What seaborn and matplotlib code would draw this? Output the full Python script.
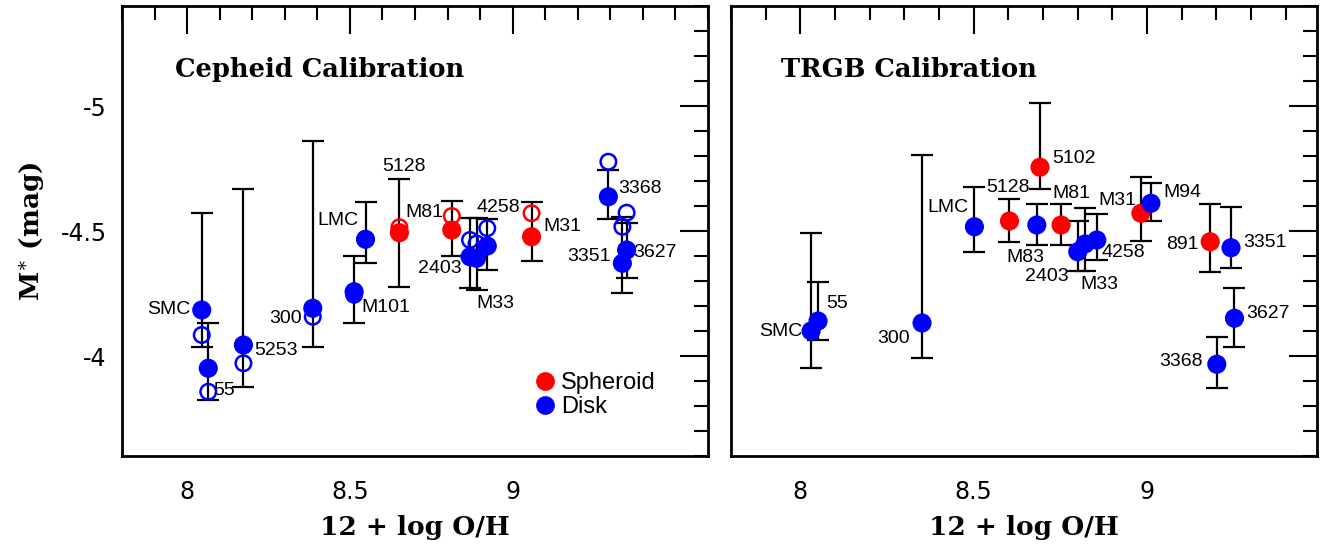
import numpy as np
import pandas as pd
import matplotlib
matplotlib.use("Agg")
import matplotlib.pyplot as plt
import seaborn as sns
from matplotlib.lines import Line2D
from matplotlib.ticker import MultipleLocator

# ---------------- Cepheid calibration (left panel) ----------------
ceph_names = ["SMC", "55", "5253", "300", "M101", "LMC", "5128", "M81",
              "2403", "M33", "4258", "M31", "3368", "3351", "3627"]
ceph_oh = [8.045, 8.065, 8.173, 8.386, 8.513, 8.548, 8.652, 8.813,
           8.869, 8.889, 8.922, 9.058, 9.294, 9.337, 9.350]
ceph_type = ["Disk", "Disk", "Disk", "Disk", "Disk", "Disk", "Spheroid", "Spheroid",
             "Disk", "Disk", "Disk", "Spheroid", "Disk", "Disk", "Disk"]
ceph_m = [-4.184, -3.951, -4.044, -4.191, -4.257, -4.467, -4.493, -4.504,
          -4.397, -4.391, -4.440, -4.477, -4.637, -4.371, -4.424]
ceph_m_open = [-4.084, -3.857, -3.971, -4.157, -4.245, -4.467, -4.515, -4.560,
               -4.464, -4.450, -4.511, -4.571, -4.777, -4.517, -4.573]
ceph_err_top = [-4.573, -4.131, -4.667, -4.860, -4.400, -4.617, -4.710, -4.621,
                -4.551, -4.551, -4.547, -4.617, -4.744, -4.555, -4.533]
ceph_err_bot = [-4.035, -3.824, -3.877, -4.035, -4.133, -4.373, -4.277, -4.400,
                -4.271, -4.264, -4.344, -4.380, -4.547, -4.251, -4.313]

# ---------------- TRGB calibration (right panel) ----------------
trgb_names = ["SMC", "55", "300", "LMC", "5128", "M83", "5102", "M81",
              "2403", "M33", "4258", "M31", "M94", "891", "3351", "3627", "3368"]
trgb_oh = [8.031, 8.051, 8.351, 8.502, 8.603, 8.682, 8.691, 8.752,
           8.800, 8.821, 8.855, 8.982, 9.011, 9.182, 9.242, 9.252, 9.201]
trgb_type = ["Disk", "Disk", "Disk", "Disk", "Spheroid", "Disk", "Spheroid", "Spheroid",
             "Disk", "Disk", "Disk", "Spheroid", "Disk", "Spheroid", "Disk", "Disk", "Disk"]
trgb_m = [-4.100, -4.140, -4.132, -4.517, -4.540, -4.524, -4.755, -4.524,
          -4.417, -4.448, -4.464, -4.571, -4.611, -4.457, -4.433, -4.151, -3.967]
trgb_err_top = [-4.493, -4.297, -4.804, -4.675, -4.627, -4.607, -5.013, -4.607,
                -4.540, -4.591, -4.567, -4.716, -4.693, -4.607, -4.597, -4.271, -4.075]
trgb_err_bot = [-3.952, -4.064, -3.992, -4.415, -4.457, -4.444, -4.667, -4.444,
                -4.340, -4.340, -4.384, -4.460, -4.540, -4.335, -4.351, -4.035, -3.873]

x_ticks = [8, 8.5, 9]
x_tick_labels = ["8", "8.5", "9"]
y_ticks = [-5, -4.5, -4]
y_tick_labels = ["-5", "-4.5", "-4"]

palette = {"Spheroid": "#ff0000", "Disk": "#0000ff"}

# label offsets (pixels: dx right, dy down, alignment)
ceph_lab = {
    "SMC": (-11, 0, "right"), "55": (5, 22, "left"), "5253": (11, 5, "left"),
    "300": (-11, 10, "right"), "M101": (7, 16, "left"), "LMC": (-7, -19, "right"),
    "5128": (5, -66, "center"), "M81": (-8, -18, "right"), "2403": (-8, 12, "right"),
    "M33": (0, 45, "left"), "4258": (11, -38, "center"), "M31": (12, -10, "left"),
    "3368": (10, -8, "left"), "3351": (-12, -7, "right"), "3627": (7, 3, "left"),
}
trgb_lab = {
    "SMC": (-9, 0, "right"), "55": (8, -18, "left"), "300": (-12, 15, "right"),
    "LMC": (-6, -19, "right"), "5128": (-1, -34, "center"), "M83": (-11, 32, "center"),
    "5102": (12, -9, "left"), "M81": (10, -32, "center"), "2403": (-9, 25, "right"),
    "M33": (-5, 41, "left"), "4258": (5, 13, "left"), "M31": (-4, -13, "right"),
    "M94": (12, -11, "left"), "891": (-12, 3, "right"), "3351": (12, -5, "left"),
    "3627": (12, -5, "left"), "3368": (-14, -3, "right"),
}

sns.set_style("white")
plt.rcParams["font.family"] = ["DejaVu Sans"]
plt.rcParams["mathtext.fontset"] = "dejavuserif"
plt.rcParams["text.color"] = "black"
plt.rcParams["axes.labelcolor"] = "black"
plt.rcParams["xtick.color"] = "black"
plt.rcParams["ytick.color"] = "black"

fig = plt.figure(figsize=(13.28, 5.48), dpi=100)
ax1 = fig.add_axes([122 / 1328, 92 / 548, 586 / 1328, 450 / 548])
ax2 = fig.add_axes([731 / 1328, 92 / 548, 586 / 1328, 450 / 548])


def style_axis(ax, xmax, show_ylabels):
    ax.set_xlim(7.8, xmax)
    ax.set_ylim(-3.6, -5.4)
    ax.set_xticks(x_ticks)
    ax.set_xticklabels(x_tick_labels)
    ax.set_yticks(y_ticks)
    ax.set_yticklabels(y_tick_labels if show_ylabels else [])
    ax.xaxis.set_minor_locator(MultipleLocator(0.1))
    ax.yaxis.set_minor_locator(MultipleLocator(0.1))
    ax.tick_params(which="both", direction="in", top=True, right=True,
                   width=1.5, color="black", labelcolor="black")
    ax.tick_params(which="major", length=20)
    ax.tick_params(which="minor", length=10)
    ax.tick_params(axis="x", which="major", pad=17, labelsize=17)
    ax.tick_params(axis="y", which="major", pad=11, labelsize=17,
                   labelleft=show_ylabels)
    for s in ax.spines.values():
        s.set_linewidth(2)
        s.set_color("black")
    ax.set_xlabel("12 + log O/H", fontfamily="DejaVu Serif", fontweight="bold",
                  fontsize=19, color="black")
    ax.xaxis.set_label_coords(0.5, -0.132)
    ax.grid(False)


def draw_points(ax, names, oh, mfill, top, bot, types, labels, m_open=None):
    df = pd.DataFrame({"name": names, "oh": oh, "m": mfill, "type": types,
                       "top": top, "bot": bot})
    mid = (df["top"] + df["bot"]) / 2
    half = (df["bot"] - df["top"]) / 2
    ax.errorbar(df["oh"], mid, yerr=half, fmt="none", ecolor="black",
                elinewidth=1.6, capsize=8, capthick=1.6, zorder=2)
    if m_open is not None:
        df["m_open"] = m_open
        for t, col in palette.items():
            sub = df[df["type"] == t]
            ax.scatter(sub["oh"], sub["m_open"], s=125, facecolors="none",
                       edgecolors=col, linewidths=1.8, zorder=3)
    sns.scatterplot(data=df, x="oh", y="m", hue="type", palette=palette,
                    s=190, linewidth=0, legend=False, ax=ax, zorder=4)
    for _, r in df.iterrows():
        dx, dy, ha = labels[r["name"]]
        ax.annotate(r["name"], (r["oh"], r["m"]), xytext=(dx, -dy),
                    textcoords="offset pixels", ha=ha, va="center",
                    fontsize=14, fontfamily="Liberation Sans", color="black",
                    zorder=5)
    ax.set_xlabel("")
    ax.set_ylabel("")


draw_points(ax1, ceph_names, ceph_oh, ceph_m, ceph_err_top, ceph_err_bot,
            ceph_type, ceph_lab, m_open=ceph_m_open)
draw_points(ax2, trgb_names, trgb_oh, trgb_m, trgb_err_top, trgb_err_bot,
            trgb_type, trgb_lab)

style_axis(ax1, 9.6, True)
style_axis(ax2, 9.49, False)

ax1.set_ylabel(r"M$^{\ast}$ (mag)", fontfamily="DejaVu Serif", fontweight="bold",
               fontsize=19, color="black")
ax1.yaxis.set_label_coords(-0.13, 0.5)

ax1.text(0.09, 0.858, "Cepheid Calibration", transform=ax1.transAxes,
         fontfamily="DejaVu Serif", fontweight="bold", fontsize=18.5,
         va="center", color="black")
ax2.text(0.085, 0.858, "TRGB Calibration", transform=ax2.transAxes,
         fontfamily="DejaVu Serif", fontweight="bold", fontsize=18.5,
         va="center", color="black")

handles = [Line2D([], [], marker="o", linestyle="none", markersize=13.5,
                  markerfacecolor=palette[k], markeredgewidth=0, label=k)
           for k in ["Spheroid", "Disk"]]
leg = ax1.legend(handles=handles, loc="center left", bbox_to_anchor=(0.685, 0.135),
                 frameon=False, handlelength=0.8, handletextpad=0.3,
                 labelspacing=0.1, borderpad=0,
                 prop={"family": "Liberation Sans", "size": 17})
for t in leg.get_texts():
    t.set_color("black")

fig.savefig("out.png", dpi=100)
